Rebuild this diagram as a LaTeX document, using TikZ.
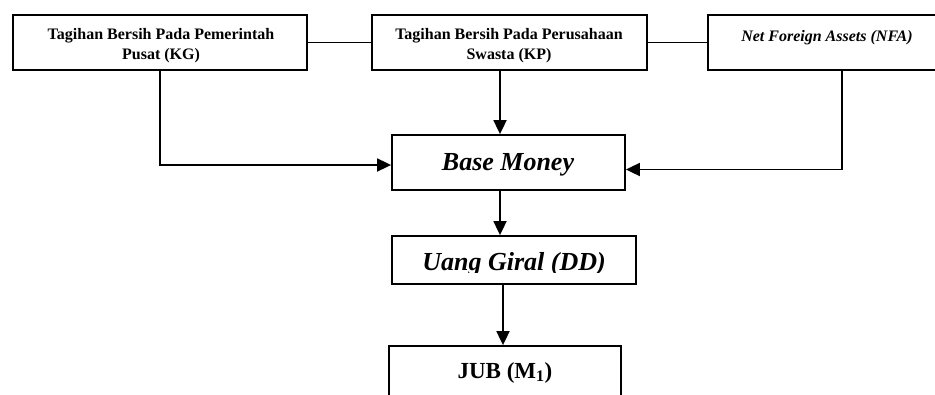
\documentclass[tikz,border=0pt]{standalone}
\usepackage{fontspec}
\setmainfont{Liberation Serif}
\usetikzlibrary{arrows.meta}
\begin{document}
\begin{tikzpicture}[x=1pt,y=-1pt,
  box/.style={draw, line width=1.8pt, rectangle, inner sep=0pt},
  conn/.style={line width=1.8pt},
  arr/.style={line width=1.8pt, -{Triangle[length=14pt,width=13pt]}},
  toptext/.style={font=\fontsize{16}{20}\selectfont\bfseries, align=center, inner sep=0pt},
  topital/.style={font=\fontsize{16}{20}\selectfont\bfseries\itshape, inner sep=0pt, anchor=base},
  bigital/.style={font=\fontsize{26}{30}\selectfont\bfseries\itshape, inner sep=0pt, anchor=base},
  bigtext/.style={font=\fontsize{23}{27}\selectfont\bfseries, inner sep=0pt, anchor=base}]
\clip (0,0) rectangle (935,394);
% boxes
\node[box, minimum width=294pt, minimum height=55pt] (kg) at (160,42.5) {};
\node[box, minimum width=275pt, minimum height=55pt] (kp) at (509.5,42.5) {};
\node[box, minimum width=237pt, minimum height=55pt] (nfa) at (826.5,42.5) {};
\node[box, minimum width=233pt, minimum height=55pt] (bm) at (508.5,162.5) {};
\node[box, minimum width=244pt, minimum height=48pt] (dd) at (514,260) {};
\node[box, minimum width=232pt, minimum height=80pt] (jub) at (505,386) {};
% texts
\node[toptext] (kgt) at (161,45.5) {Tagihan Bersih Pada Pemerintah\\Pusat (KG)};
\node[toptext] (kpt) at (509,45.5) {Tagihan Bersih Pada Perusahaan\\Swasta (KP)};
\node[topital] (nfat) at (827,41.7) {Net Foreign Assets (NFA)};
\node[bigital] (bmt) at (508,170.7) {Base Money};
\begin{scope}
  \clip (393,238) rectangle (635,272);
  \node[bigital] (ddt) at (514,270) {Uang Giral (DD)};
\end{scope}
\node[bigtext] (jubt) at (505,378) {JUB (M\textsubscript{1})};
% connectors
\draw[conn] (kg.east) -- (kp.west);
\draw[conn] (kp.east) -- (nfa.west);
\draw[arr] (kg.south) |- ([yshift=-2.5pt]bm.west);
\coordinate (kpout) at ([xshift=-9.5pt]kp.south);
\draw[arr] (kpout) -- (kpout |- bm.north);
\coordinate (nfaout) at ([xshift=15.5pt]nfa.south);
\draw[arr] (nfaout) |- ([yshift=-7pt]bm.east);
\coordinate (bmout) at ([xshift=-8.5pt]bm.south);
\draw[arr] (bmout) -- (bmout |- dd.north);
\coordinate (ddout) at ([xshift=-11pt]dd.south);
\draw[arr] (ddout) -- (ddout |- jub.north);
\end{tikzpicture}
\end{document}
